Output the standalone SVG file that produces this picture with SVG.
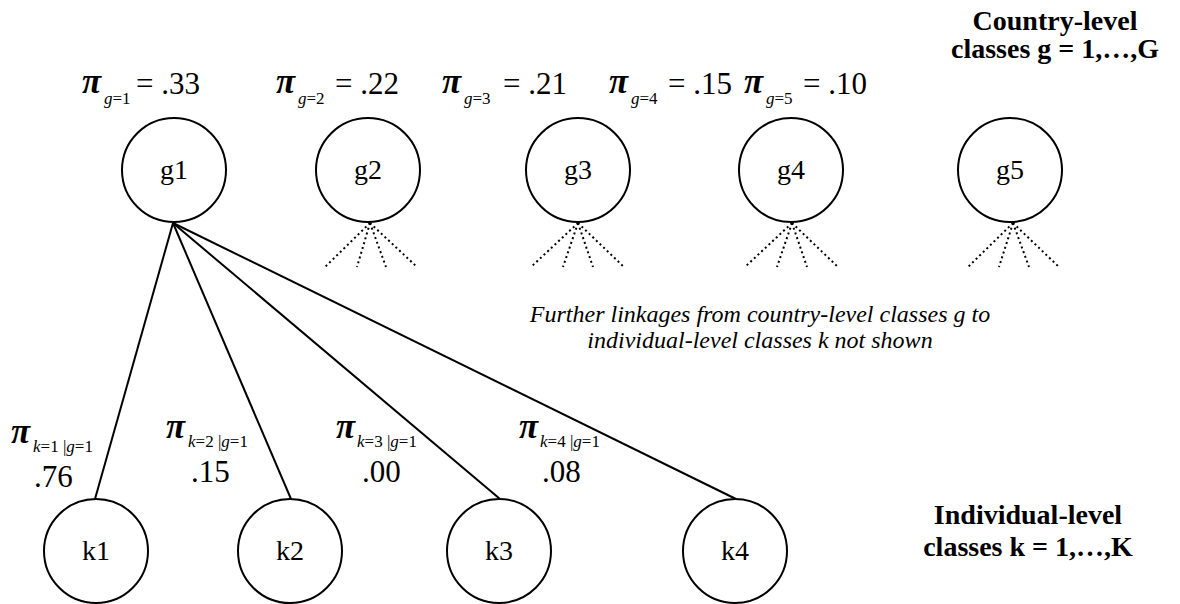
<svg xmlns="http://www.w3.org/2000/svg" width="1180" height="604" viewBox="0 0 1180 604">
<style>
.t{font-family:"Liberation Serif","Times New Roman",serif;fill:#000}
.lbl{font-size:28px}
.val{font-size:31px}
.pi{font-size:35px;font-style:italic;font-weight:bold}
.sub{font-size:17px}
.i{font-style:italic}
.b{font-weight:bold;font-size:28px}
.note{font-style:italic;font-size:24px}
.node{fill:#fff;stroke:#000;stroke-width:2}
.edge{stroke:#000;stroke-width:2;fill:none}
.dot{stroke:#000;stroke-width:2;fill:none;stroke-dasharray:2 3}
</style>
<rect width="1180" height="604" fill="#fff"/>
<g id="connectors">
<line class="edge" x1="173" y1="223" x2="95" y2="499"/>
<line class="edge" x1="173" y1="223" x2="291" y2="499"/>
<line class="edge" x1="173" y1="223" x2="500" y2="499"/>
<line class="edge" x1="173" y1="223" x2="736" y2="499"/>
<g id="dotted">
<path class="dot" d="M370 223L325 267M370 223L357 267M370 223L386 267M370 223L417 267"/>
<path class="dot" d="M578 223L531 267M578 223L563 267M578 223L593 267M578 223L624 267"/>
<path class="dot" d="M792 223L745 267M792 223L777 267M792 223L807 267M792 223L838 267"/>
<path class="dot" d="M1013 223L968 267M1013 223L999 267M1013 223L1029 267M1013 223L1059 267"/>
</g>
</g>
<g id="g1"><circle class="node" cx="174" cy="170" r="52"/><text class="t lbl" x="174" y="179" text-anchor="middle">g1</text>
<text class="t pi" x="82" y="93">π</text><text class="t sub" x="104" y="104"><tspan class="i">g</tspan>=1</text><text class="t val" x="136" y="94">= .33</text></g>
<g id="g2"><circle class="node" cx="368" cy="170" r="52"/><text class="t lbl" x="368" y="179" text-anchor="middle">g2</text>
<text class="t pi" x="276" y="93">π</text><text class="t sub" x="298" y="104"><tspan class="i">g</tspan>=2</text><text class="t val" x="335" y="94">= .22</text></g>
<g id="g3"><circle class="node" cx="578" cy="170" r="52"/><text class="t lbl" x="578" y="179" text-anchor="middle">g3</text>
<text class="t pi" x="442" y="93">π</text><text class="t sub" x="464" y="104"><tspan class="i">g</tspan>=3</text><text class="t val" x="503" y="94">= .21</text></g>
<g id="g4"><circle class="node" cx="791" cy="170" r="52"/><text class="t lbl" x="791" y="179" text-anchor="middle">g4</text>
<text class="t pi" x="609" y="93">π</text><text class="t sub" x="631" y="104"><tspan class="i">g</tspan>=4</text><text class="t val" x="668" y="94">= .15</text></g>
<g id="g5"><circle class="node" cx="1010" cy="170" r="52"/><text class="t lbl" x="1010" y="179" text-anchor="middle">g5</text>
<text class="t pi" x="744" y="93">π</text><text class="t sub" x="766" y="104"><tspan class="i">g</tspan>=5</text><text class="t val" x="803" y="94">= .10</text></g>
<g id="k1"><circle class="node" cx="96" cy="551" r="52"/><text class="t lbl" x="96" y="560" text-anchor="middle">k1</text></g>
<g id="k2"><circle class="node" cx="290" cy="551" r="52"/><text class="t lbl" x="290" y="560" text-anchor="middle">k2</text></g>
<g id="k3"><circle class="node" cx="499" cy="551" r="52"/><text class="t lbl" x="499" y="560" text-anchor="middle">k3</text></g>
<g id="k4"><circle class="node" cx="735" cy="551" r="52"/><text class="t lbl" x="735" y="560" text-anchor="middle">k4</text></g>
<g id="edge-labels">
<text class="t pi" x="11" y="443">π</text><text class="t sub" x="33" y="452"><tspan class="i">k</tspan>=1 |<tspan class="i">g</tspan>=1</text><text class="t val" x="34" y="487">.76</text>
<text class="t pi" x="166" y="438">π</text><text class="t sub" x="188" y="447"><tspan class="i">k</tspan>=2 |<tspan class="i">g</tspan>=1</text><text class="t val" x="191" y="482">.15</text>
<text class="t pi" x="336" y="438">π</text><text class="t sub" x="357" y="447"><tspan class="i">k</tspan>=3 |<tspan class="i">g</tspan>=1</text><text class="t val" x="362" y="482">.00</text>
<text class="t pi" x="519" y="438">π</text><text class="t sub" x="540" y="447"><tspan class="i">k</tspan>=4 |<tspan class="i">g</tspan>=1</text><text class="t val" x="542" y="482">.08</text>
</g>
<g id="notes">
<text class="t b" x="1055" y="30" text-anchor="middle">Country-level</text>
<text class="t b" x="1055" y="58" text-anchor="middle">classes g = 1,…,G</text>
<text class="t note" x="760" y="322" text-anchor="middle">Further linkages from country-level classes g to</text>
<text class="t note" x="760" y="348" text-anchor="middle">individual-level classes k not shown</text>
<text class="t b" x="1028" y="524" text-anchor="middle">Individual-level</text>
<text class="t b" x="1028" y="556" text-anchor="middle">classes k = 1,…,K</text>
</g>
</svg>
